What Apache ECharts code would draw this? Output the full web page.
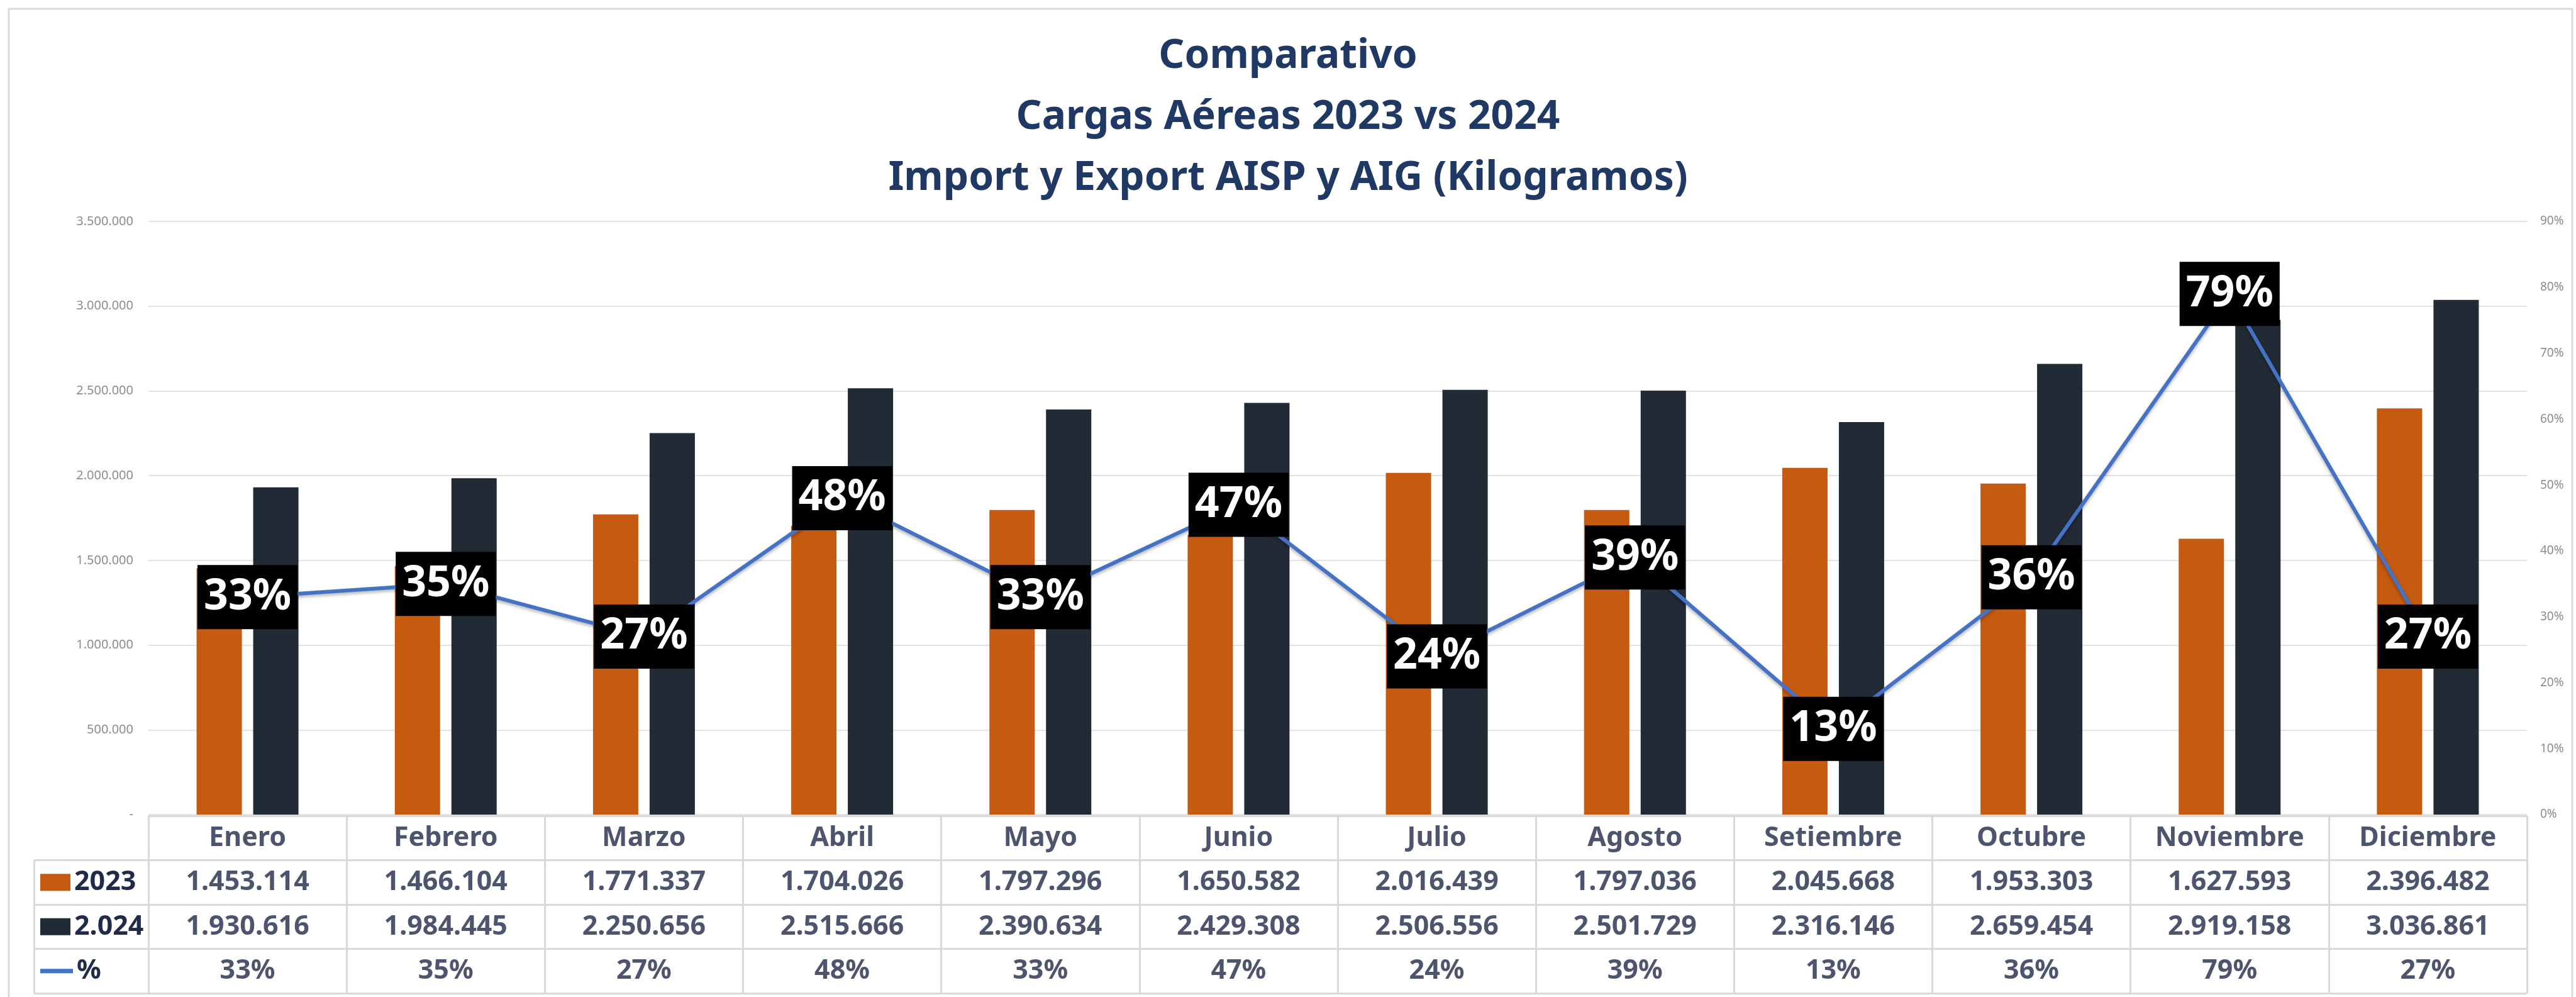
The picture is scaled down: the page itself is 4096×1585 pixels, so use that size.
<!DOCTYPE html>
<html>
<head>
<meta charset="utf-8">
<title>Comparativo Cargas Aéreas</title>
<script src="https://cdn.jsdelivr.net/npm/echarts@6/dist/echarts.min.js"></script>
<style>
    html, body { margin: 0; padding: 0; background: #fff; }
    #chart { width: 4096px; height: 1585px; }
</style>
</head>
<body>
<div id="chart"></div>
<script>
const meses = ['Enero', 'Febrero', 'Marzo', 'Abril', 'Mayo', 'Junio', 'Julio', 'Agosto', 'Setiembre', 'Octubre', 'Noviembre', 'Diciembre'];
const kg2023 = [1453114, 1466104, 1771337, 1704026, 1797296, 1650582, 2016439, 1797036, 2045668, 1953303, 1627593, 2396482];
const kg2024 = [1930616, 1984445, 2250656, 2515666, 2390634, 2429308, 2506556, 2501729, 2316146, 2659454, 2919158, 3036861];
const variacion = [33, 35, 27, 48, 33, 47, 24, 39, 13, 36, 79, 27];
const filasTabla = ['mes', '2023', '2.024', '%'];
const filasLeyenda = ['2023', '2.024', '%'];

const FONT = 'Noto Sans';
const NAVY = '#1f2b48';
const NARANJA = '#c55a11';
const OSCURO = '#222a35';
const AZUL = '#4472c4';
const BORDE = '#d9d9d9';

// separador de miles con punto
function miles(n) {
    return String(n).replace(/\B(?=(\d{3})+(?!\d))/g, '.');
}

// celdas de la tabla: [columna, fila, texto]
const celdas = [];
meses.forEach((m, i) => {
    celdas.push([i, 0, m]);
    celdas.push([i, 1, miles(kg2023[i])]);
    celdas.push([i, 2, miles(kg2024[i])]);
    celdas.push([i, 3, variacion[i] + '%']);
});

const chart = echarts.init(document.getElementById('chart'));

const lineaTabla = { show: true, lineStyle: { color: BORDE, width: 3 } };

const option = {
    animation: false,
    backgroundColor: '#fff',
    textStyle: { fontFamily: FONT },
    graphic: [{
        type: 'rect',
        z: -10,
        shape: { x: 14, y: 14, width: 4076, height: 1600 },
        style: { fill: 'none', stroke: BORDE, lineWidth: 3 }
    }],
    title: {
        text: 'Comparativo\nCargas Aéreas 2023 vs 2024\nImport y Export AISP y AIG (Kilogramos)',
        left: 'center',
        top: 36,
        textStyle: {
            fontFamily: FONT,
            fontSize: 64,
            lineHeight: 97,
            fontWeight: 'bold',
            color: '#203864'
        }
    },
    grid: [
        { left: 236, right: 78, top: 352, bottom: 290 },
        { left: 236, right: 78, top: 1297, bottom: 6 },
        { left: 54, width: 182, top: 1367.5, bottom: 6 }
    ],
    xAxis: [
        {
            type: 'category', gridIndex: 0, data: meses,
            axisLine: { show: false }, axisTick: { show: false }, axisLabel: { show: false }
        },
        {
            type: 'category', gridIndex: 1, data: meses,
            axisLine: { show: false }, axisTick: { show: false }, axisLabel: { show: false },
            splitLine: lineaTabla
        },
        {
            type: 'category', gridIndex: 2, data: [''],
            axisLine: { show: false }, axisTick: { show: false }, axisLabel: { show: false },
            splitLine: lineaTabla
        }
    ],
    yAxis: [
        {
            type: 'value', gridIndex: 0, min: 0, max: 3500000, interval: 500000,
            axisLine: { show: false }, axisTick: { show: false },
            axisLabel: {
                margin: 24, fontSize: 20, color: '#8c8c8c', fontFamily: FONT,
                formatter: v => (v === 0 ? '-' : miles(v))
            },
            splitLine: { lineStyle: { color: '#e3e3e3', width: 2 } }
        },
        {
            type: 'value', gridIndex: 0, min: 0, max: 90, interval: 10, position: 'right',
            axisLine: { show: false }, axisTick: { show: false },
            axisLabel: { margin: 21, fontSize: 19, color: '#8c8c8c', fontFamily: FONT, formatter: '{value}%' },
            splitLine: { show: false }
        },
        {
            type: 'category', gridIndex: 1, data: filasTabla, inverse: true,
            axisLine: { show: false }, axisTick: { show: false }, axisLabel: { show: false },
            splitLine: lineaTabla
        },
        {
            type: 'category', gridIndex: 2, data: filasLeyenda, inverse: true,
            axisLine: { show: false }, axisTick: { show: false },
            splitLine: lineaTabla,
            axisLabel: {
                inside: true,
                margin: 10,
                formatter: function (v) {
                    if (v === '2023') return '{o|}{t|' + v + '}';
                    if (v === '2.024') return '{d|}{t|' + v + '}';
                    return '{l|}{t|' + v + '}';
                },
                rich: {
                    o: { width: 48, height: 27, backgroundColor: NARANJA, verticalAlign: 'middle' },
                    d: { width: 48, height: 27, backgroundColor: OSCURO, verticalAlign: 'middle' },
                    l: { width: 52, height: 7, backgroundColor: AZUL, verticalAlign: 'middle' },
                    t: {
                        fontFamily: FONT, fontSize: 43, fontWeight: 'bold', color: NAVY,
                        padding: [0, 0, 0, 6], verticalAlign: 'middle'
                    }
                }
            }
        }
    ],
    series: [
        {
            name: '2023',
            type: 'bar',
            xAxisIndex: 0, yAxisIndex: 0,
            data: kg2023,
            barWidth: 72,
            barGap: '25%',
            itemStyle: { color: NARANJA }
        },
        {
            name: '2.024',
            type: 'bar',
            xAxisIndex: 0, yAxisIndex: 0,
            data: kg2024,
            barWidth: 72,
            itemStyle: { color: OSCURO }
        },
        {
            name: '%',
            type: 'line',
            xAxisIndex: 0, yAxisIndex: 1,
            data: variacion,
            symbol: 'circle',
            symbolSize: 1,
            z: 5,
            lineStyle: {
                color: AZUL, width: 6,
                shadowColor: 'rgba(0,0,0,0.3)', shadowBlur: 5, shadowOffsetY: 3
            },
            itemStyle: { color: AZUL },
            label: {
                show: true,
                position: 'inside',
                formatter: p => p.value + '%',
                fontFamily: FONT,
                fontSize: 68,
                lineHeight: 68,
                fontWeight: 'bold',
                color: '#fff',
                backgroundColor: '#000',
                padding: [17, 10, 17, 10]
            }
        },
        {
            name: 'tabla',
            type: 'scatter',
            xAxisIndex: 1, yAxisIndex: 2,
            data: celdas,
            symbolSize: 1,
            itemStyle: { color: 'rgba(0,0,0,0)' },
            silent: true,
            label: {
                show: true,
                position: 'inside',
                formatter: p => p.value[2],
                fontFamily: FONT,
                fontSize: 43,
                fontWeight: 'bold',
                color: NAVY
            }
        }
    ]
};

chart.setOption(option);
</script>
</body>
</html>
